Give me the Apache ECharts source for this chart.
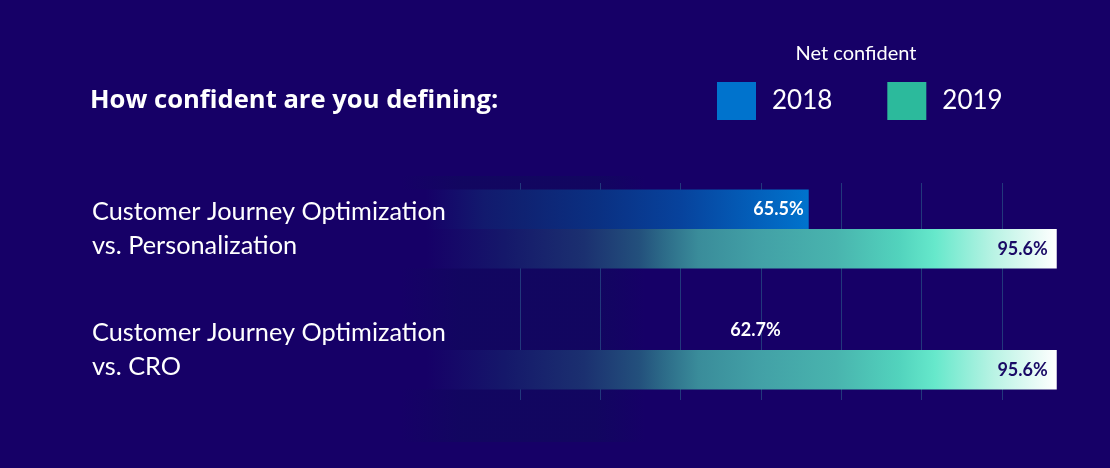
<!DOCTYPE html>
<html>
<head>
<meta charset="utf-8">
<script src="https://cdn.jsdelivr.net/npm/echarts@6/dist/echarts.min.js"></script>
<style>
html,body{margin:0;padding:0;background:#160067;}
#chart{width:1110px;height:468px;}
</style>
</head>
<body>
<div id="chart"></div>
<script>
var categories = ['Customer Journey Optimization\nvs. Personalization', 'Customer Journey Optimization\nvs. CRO'];
var seriesNames = ['2018', '2019'];
var values2018 = [65.5, 62.7];
var values2019 = [95.6, 95.6];
var titleText = 'How confident are you defining:';
var legendTitle = 'Net confident';

var BG = '#160067';
var chart = echarts.init(document.getElementById('chart'));

function grad(stops) {
  return new echarts.graphic.LinearGradient(0, 0, 1, 0, stops.map(function (s) { return { offset: s[0], color: s[1] }; }));
}
var grad2018 = grad([
  [0, BG], [0.29, BG], [0.40, '#121a6e'], [0.47, '#0f2272'], [0.61, '#0a3082'],
  [0.76, '#07429c'], [0.9, '#035fba'], [1, '#0073cd']
]);
var grad2019 = grad([
  [0, BG], [0.20, BG], [0.30, '#15186a'], [0.40, '#1b3070'], [0.47, '#23507c'],
  [0.50, '#2c6a88'], [0.545, '#3a8c9a'], [0.62, '#42a0a6'], [0.72, '#49b4ae'],
  [0.80, '#52d3bd'], [0.845, '#66e8cb'], [0.92, '#b9f3e4'], [1, '#ffffff']
]);

var data2018 = values2018.map(function (v, i) {
  return i === 0 ? { value: v, itemStyle: { color: grad2018 } }
                 : { value: v, itemStyle: { color: 'rgba(0,0,0,0)' } };
});

var option = {
  backgroundColor: BG,
  animation: false,
  title: {
    text: titleText,
    left: 90,
    top: 88,
    padding: 0,
    textStyle: { color: '#ffffff', fontFamily: 'Open Sans', fontWeight: 'bold', fontSize: 25.6 }
  },
  graphic: [
    { type: 'rect', z: -1, shape: { x: 400, y: 176, width: 245, height: 266 },
      style: { fill: new echarts.graphic.LinearGradient(0, 0, 1, 0, [
        { offset: 0, color: 'rgba(8,20,80,0)' }, { offset: 0.25, color: 'rgba(8,20,80,0.3)' },
        { offset: 0.8, color: 'rgba(8,20,80,0.3)' }, { offset: 1, color: 'rgba(8,20,80,0)' }]) } },
    { type: 'text', x: 856, y: 54,
      style: { text: legendTitle, fill: '#ffffff', font: '20px Lato', align: 'center', verticalAlign: 'middle' } }
  ],
  legend: {
    left: 717, top: 82, padding: 0,
    itemWidth: 39, itemHeight: 38, itemGap: 55,
    icon: 'rect',
    textStyle: { color: '#ffffff', fontFamily: 'Lato', fontSize: 26, padding: [0, 0, 0, 11] },
    data: [
      { name: seriesNames[0], itemStyle: { color: '#0073cd' } },
      { name: seriesNames[1], itemStyle: { color: '#2cba9c' } }
    ]
  },
  grid: [
    { left: 269, right: 17, top: 168.5, bottom: 57.5 },
    { left: 520, right: 108, top: 183, bottom: 68 }
  ],
  xAxis: [
    { gridIndex: 0, type: 'value', min: 0, max: 100, show: false, splitLine: { show: false } },
    { gridIndex: 1, type: 'value', min: 30, max: 90, interval: 10,
      axisLine: { show: false }, axisTick: { show: false }, axisLabel: { show: false },
      splitLine: { show: true, lineStyle: { color: '#22387c', width: 1 } } }
  ],
  yAxis: [
    { gridIndex: 0, type: 'category', data: categories, inverse: true, z: 10,
      axisLine: { show: false }, axisTick: { show: false },
      axisLabel: { align: 'left', margin: 177, color: '#ffffff', fontFamily: 'Lato', fontSize: 25.3, lineHeight: 34 } },
    { gridIndex: 1, type: 'value', show: false }
  ],
  series: [
    { name: seriesNames[0], type: 'bar', xAxisIndex: 0, yAxisIndex: 0,
      data: data2018, barWidth: 39.5, barGap: '0%',
      itemStyle: { color: '#0073cd' },
      label: { show: true, position: 'insideRight', distance: 5, color: '#ffffff',
        fontFamily: 'Lato', fontWeight: 'bold', fontSize: 18, formatter: '{c}%' } },
    { name: seriesNames[1], type: 'bar', xAxisIndex: 0, yAxisIndex: 0,
      data: values2019, barWidth: 39.5, barGap: '0%',
      itemStyle: { color: grad2019 },
      label: { show: true, position: 'insideRight', distance: 9, color: '#1a0a66',
        fontFamily: 'Lato', fontWeight: 'bold', fontSize: 18, formatter: '{c}%' } }
  ]
};
chart.setOption(option);
</script>
</body>
</html>
